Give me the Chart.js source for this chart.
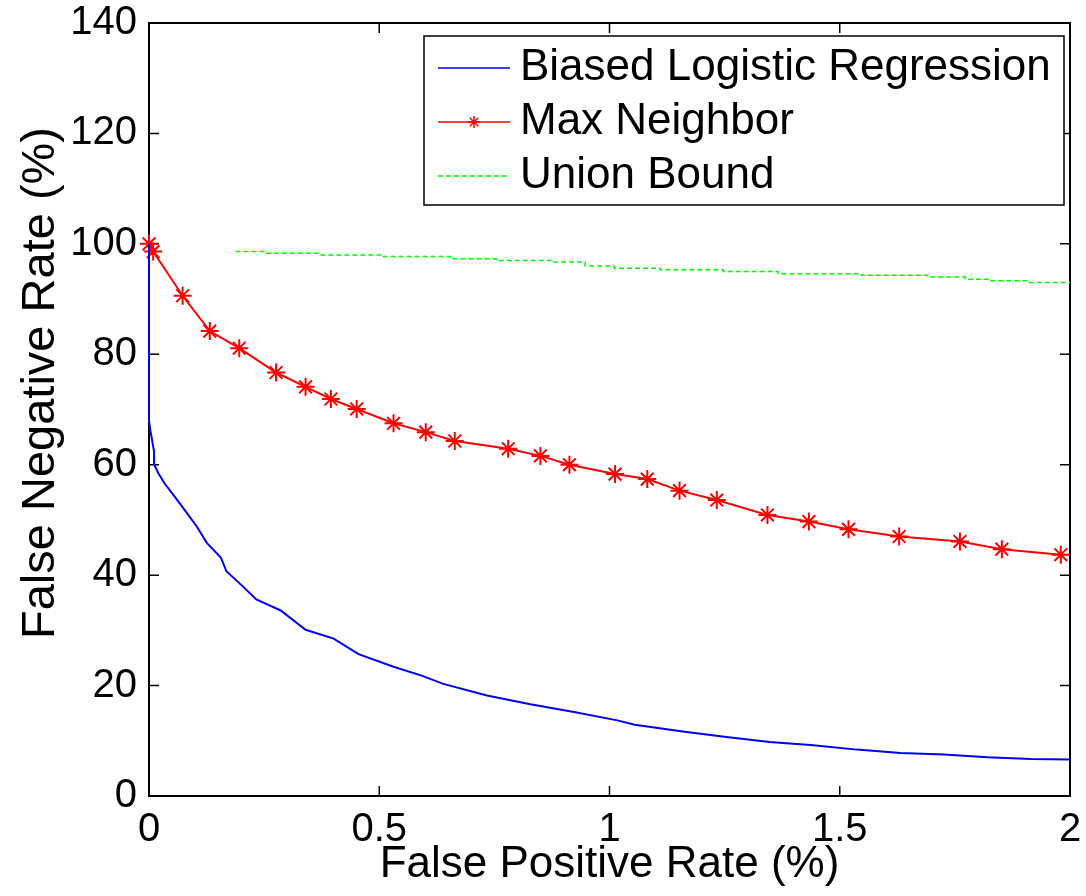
<!DOCTYPE html>
<html>
<head>
<meta charset="utf-8">
<title>False Positive vs False Negative Rate</title>
<script src="https://cdn.jsdelivr.net/npm/chart.js@4.4.0/dist/chart.umd.min.js"></script>
<style>
    html, body { margin: 0; padding: 0; background: #ffffff; }
    #wrap { width: 1086px; height: 896px; }
</style>
</head>
<body>
<div id="wrap"><canvas id="rateChart" width="1086" height="896"></canvas></div>
<script>
// Axis ticks
const xTicks = [0, 0.5, 1, 1.5, 2];
const yTicks = [0, 20, 40, 60, 80, 100, 120, 140];

// Biased Logistic Regression
const blrFpr = [0, 0, 0.003, 0.011, 0.011, 0.020, 0.034, 0.057, 0.080, 0.103, 0.126, 0.156, 0.168, 0.202,
    0.233, 0.286, 0.340, 0.401, 0.455, 0.531, 0.592, 0.639, 0.734, 0.828, 0.923, 1.017, 1.055, 1.159,
    1.254, 1.348, 1.443, 1.537, 1.632, 1.726, 1.821, 1.915, 2.0];
const blrFnr = [100, 68, 66.2, 62.4, 60.1, 58.5, 56.6, 54.1, 51.5, 48.9, 45.8, 43.2, 40.7, 38.1,
    35.6, 33.6, 30.1, 28.5, 25.7, 23.4, 21.8, 20.3, 18.2, 16.6, 15.2, 13.7, 12.9, 11.7,
    10.7, 9.8, 9.2, 8.4, 7.8, 7.5, 7.0, 6.7, 6.6];

// Max Neighbor (marked points)
const maxNbFpr = [0, 0.009, 0.073, 0.132, 0.196, 0.276, 0.340, 0.395, 0.451, 0.531, 0.601, 0.664, 0.780,
    0.850, 0.913, 1.012, 1.082, 1.152, 1.233, 1.343, 1.433, 1.519, 1.629, 1.761, 1.852, 1.980];
const maxNbFnr = [100, 98.6, 90.6, 84.2, 81.1, 76.7, 74.1, 71.9, 70.1, 67.5, 65.9, 64.3, 62.9,
    61.6, 60.0, 58.3, 57.4, 55.3, 53.6, 50.9, 49.7, 48.3, 47.0, 46.1, 44.7, 43.7];

// Union Bound (start of each step level)
const unionFpr = [0.188, 0.254, 0.367, 0.504, 0.654, 0.754, 0.872, 0.947, 1.010, 1.110, 1.247, 1.366,
    1.547, 1.691, 1.772, 1.822, 1.909, 2.0];
const unionFnr = [98.6, 98.3, 98.0, 97.7, 97.3, 97.0, 96.7, 96.0, 95.6, 95.3, 95.0, 94.6,
    94.3, 94.0, 93.6, 93.3, 93.0, 93.0];

const seriesNames = ['Biased Logistic Regression', 'Max Neighbor', 'Union Bound'];
const yTitle = 'False Negative Rate (%)';

const FONT = 'Liberation Sans, Arial, sans-serif';

function toPoints(xs, ys) {
    return xs.map((x, i) => ({ x: x, y: ys[i] }));
}

// Axes box with inward ticks on all four sides (under the data), plus the y axis label
const boxPlugin = {
    id: 'matlabBox',
    beforeDatasetsDraw(chart) {
        const { ctx, chartArea: a, scales } = chart;
        const len = 10;
        ctx.save();
        ctx.strokeStyle = '#000000';
        ctx.lineWidth = 2;
        ctx.strokeRect(a.left, a.top, a.right - a.left, a.bottom - a.top);
        ctx.lineWidth = 1.5;
        ctx.beginPath();
        xTicks.forEach(v => {
            const px = scales.x.getPixelForValue(v);
            ctx.moveTo(px, a.bottom); ctx.lineTo(px, a.bottom - len);
            ctx.moveTo(px, a.top); ctx.lineTo(px, a.top + len);
        });
        yTicks.forEach(v => {
            const py = scales.y.getPixelForValue(v);
            ctx.moveTo(a.left, py); ctx.lineTo(a.left + len, py);
            ctx.moveTo(a.right, py); ctx.lineTo(a.right - len, py);
        });
        ctx.stroke();

        // y label, sits a bit above the middle like the original
        ctx.translate(41, 383);
        ctx.rotate(-Math.PI / 2);
        ctx.fillStyle = '#000000';
        ctx.font = '47px ' + FONT;
        ctx.textAlign = 'center';
        ctx.textBaseline = 'middle';
        ctx.fillText(yTitle, 0, 0);
        ctx.restore();
    }
};

// Boxed legend in the top right corner of the plot
const legendPlugin = {
    id: 'boxLegend',
    afterDraw(chart) {
        const { ctx } = chart;
        const box = { left: 424, top: 36, right: 1064, bottom: 205 };
        const rows = [68, 122, 176];
        ctx.save();
        ctx.fillStyle = '#ffffff';
        ctx.fillRect(box.left, box.top, box.right - box.left, box.bottom - box.top);
        ctx.strokeStyle = '#000000';
        ctx.lineWidth = 1.5;
        ctx.strokeRect(box.left, box.top, box.right - box.left, box.bottom - box.top);
        chart.data.datasets.forEach((ds, i) => {
            const y = rows[i];
            ctx.strokeStyle = ds.borderColor;
            ctx.lineWidth = 1.5;
            ctx.setLineDash(ds.borderDash || []);
            ctx.beginPath();
            ctx.moveTo(438, y);
            ctx.lineTo(510, y);
            ctx.stroke();
            ctx.setLineDash([]);
            if (ds.pointRadius > 0) {
                Chart.helpers.drawPoint(ctx, {
                    pointStyle: ds.pointStyle,
                    radius: 6,
                    borderWidth: 1.5
                }, 474, y);
            }
            ctx.fillStyle = '#000000';
            ctx.font = '44px ' + FONT;
            ctx.textBaseline = 'middle';
            ctx.textAlign = 'left';
            ctx.fillText(ds.label, 520, y);
        });
        ctx.restore();
    }
};

document.addEventListener('DOMContentLoaded', () => {
    const ctx = document.getElementById('rateChart').getContext('2d');
    new Chart(ctx, {
        type: 'line',
        data: {
            datasets: [
                {
                    label: seriesNames[0],
                    data: toPoints(blrFpr, blrFnr),
                    borderColor: '#0000ff',
                    borderWidth: 2,
                    pointRadius: 0,
                    fill: false,
                    tension: 0,
                    clip: false
                },
                {
                    label: seriesNames[1],
                    data: toPoints(maxNbFpr, maxNbFnr),
                    borderColor: '#ff0000',
                    backgroundColor: '#ff0000',
                    borderWidth: 2,
                    pointStyle: 'star',
                    pointRadius: 9,
                    pointBorderWidth: 2,
                    pointBorderColor: '#ff0000',
                    fill: false,
                    tension: 0,
                    clip: false
                },
                {
                    label: seriesNames[2],
                    data: toPoints(unionFpr, unionFnr),
                    borderColor: '#00ff00',
                    borderWidth: 1.5,
                    borderDash: [5, 3],
                    pointRadius: 0,
                    stepped: 'before',
                    fill: false
                }
            ]
        },
        options: {
            responsive: false,
            animation: false,
            devicePixelRatio: 1,
            layout: { padding: { top: 23, right: 16, left: 0, bottom: 0 } },
            plugins: {
                legend: { display: false },
                tooltip: { enabled: false }
            },
            scales: {
                x: {
                    type: 'linear',
                    min: 0,
                    max: 2,
                    afterBuildTicks: s => { s.ticks = xTicks.map(v => ({ value: v })); },
                    afterFit: s => { s.height = 100; s.paddingLeft = 0; s.paddingRight = 0; },
                    grid: { display: false, drawTicks: false },
                    border: { display: false },
                    ticks: {
                        color: '#000000',
                        padding: 10,
                        maxRotation: 0,
                        font: { family: FONT, size: 40 },
                        callback: v => String(v)
                    },
                    title: {
                        display: true,
                        text: 'False Positive Rate (%)',
                        color: '#000000',
                        font: { family: FONT, size: 44 },
                        padding: { top: 0, bottom: 5 }
                    }
                },
                y: {
                    type: 'linear',
                    min: 0,
                    max: 140,
                    afterBuildTicks: s => { s.ticks = yTicks.map(v => ({ value: v })); },
                    afterFit: s => { s.width = 149; s.paddingTop = 0; s.paddingBottom = 0; },
                    grid: { display: false, drawTicks: false },
                    border: { display: false },
                    ticks: {
                        color: '#000000',
                        padding: 12,
                        font: { family: FONT, size: 40 },
                        callback: v => String(v)
                    },
                    title: { display: false }
                }
            }
        },
        plugins: [boxPlugin, legendPlugin]
    });
});
</script>
</body>
</html>
